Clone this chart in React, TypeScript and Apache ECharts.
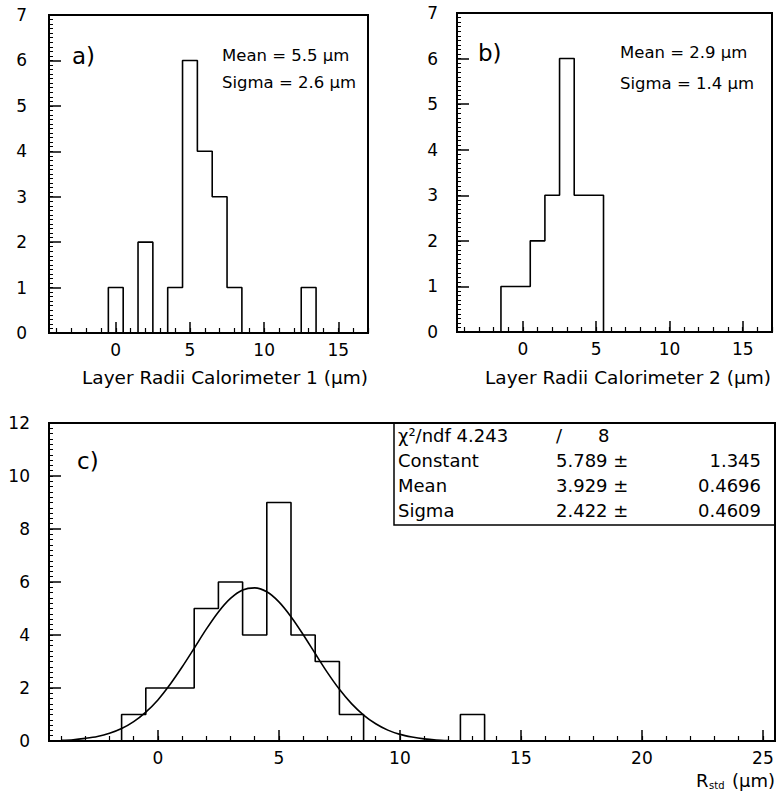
import React, { useEffect, useRef } from 'react';
import * as echarts from 'echarts';

// ---- data ----
const aCenters = [0, 2, 4, 5, 6, 7, 8, 13];
const aCounts = [1, 2, 1, 6, 4, 3, 1, 1];
const bCenters = [-1, 0, 1, 2, 3, 4, 5];
const bCounts = [1, 1, 2, 3, 6, 3, 3];
const cCenters = [-1, 0, 1, 2, 3, 4, 5, 6, 7, 8, 13];
const cCounts = [1, 2, 2, 5, 6, 4, 9, 4, 3, 1, 1];

// fitted gaussian curve
const fitX = [-4, -3.5, -3, -2.5, -2, -1.5, -1, -0.5, 0, 0.5, 1, 1.5, 2, 2.5, 3, 3.5, 4, 4.5, 5, 5.5, 6, 6.5, 7, 7.5, 8, 8.5, 9, 9.5, 10, 10.5, 11, 11.5, 12];
const fitY = [0.03, 0.05, 0.1, 0.17, 0.29, 0.47, 0.73, 1.09, 1.55, 2.13, 2.79, 3.5, 4.22, 4.87, 5.38, 5.7, 5.78, 5.63, 5.25, 4.69, 4.02, 3.3, 2.59, 1.95, 1.41, 0.98, 0.65, 0.41, 0.25, 0.15, 0.08, 0.04, 0.02];

// tick labels
const xLabelsAB = [0, 5, 10, 15];
const xLabelsC = [0, 5, 10, 15, 20, 25];
const xMinorAB = [-4, -3, -2, -1, 0, 1, 2, 3, 4, 5, 6, 7, 8, 9, 10, 11, 12, 13, 14, 15, 16, 17];
const xMinorC = [-4, -3, -2, -1, 0, 1, 2, 3, 4, 5, 6, 7, 8, 9, 10, 11, 12, 13, 14, 15, 16, 17, 18, 19, 20, 21, 22, 23, 24, 25];
const yLabelsAB = [0, 1, 2, 3, 4, 5, 6, 7];
const yLabelsC = [0, 2, 4, 6, 8, 10, 12];

const statsLabels = ['Constant', 'Mean', 'Sigma'];
const statsValues = ['5.789 ±', '3.929 ±', '2.422 ±'];
const statsErrors = ['1.345', '0.4696', '0.4609'];

const FONT = 'DejaVu Sans';

function outline(centers: number[], counts: number[]) {
  const lo = Math.min(...centers);
  const hi = Math.max(...centers);
  const pts: number[][] = [[lo - 0.5, 0]];
  for (let c = lo; c <= hi; c++) {
    const i = centers.indexOf(c);
    const v = i >= 0 ? counts[i] : 0;
    pts.push([c - 0.5, v], [c + 0.5, v]);
  }
  pts.push([hi + 0.5, 0]);
  return pts;
}

function steps(max: number, step: number) {
  const out: number[] = [];
  const n = Math.round(max / step);
  for (let i = 0; i <= n; i++) out.push(+(i * step).toFixed(4));
  return out;
}

function txt(x: number, y: number, text: string, fontSize: number, align = 'left') {
  return {
    type: 'text', x, y, z: 10,
    style: { text, fontSize, fontFamily: FONT, fill: '#000', textAlign: align, textVerticalAlign: 'middle' },
  };
}

function seg(p1: number[], p2: number[], width: number) {
  return [{ coord: p1, lineStyle: { width, color: '#000', type: 'solid' } }, { coord: p2 }];
}

function panel(grid: any, xmin: number, xmax: number, ymax: number, yInterval: number, yMargin: number,
  xLabels: number[], xMinor: number[], yLabels: number[], yMinorStep: number, histo: number[][], extra: any[], graphic: any[]) {
  // tick lengths in px converted to data units through the grid size
  const pxY = ymax / grid.height;
  const pxX = (xmax - xmin) / grid.width;
  const marks = [
    ...xMinor.map((v) => seg([v, 0], [v, 5 * pxY], 1.2)),
    ...xLabels.map((v) => seg([v, 0], [v, 11 * pxY], 1.5)),
    ...steps(ymax, yMinorStep).map((v) => seg([xmin, v], [xmin + 4 * pxX, v], 1)),
    ...yLabels.map((v) => seg([xmin, v], [xmin + 12 * pxX, v], 1.5)),
  ];
  return {
    animation: false,
    grid: { ...grid, show: true, borderColor: '#000', borderWidth: 2 },
    xAxis: {
      type: 'value', min: xmin, max: xmax,
      axisLine: { show: true, onZero: false, lineStyle: { color: '#000', width: 2 } },
      axisTick: { show: false },
      axisLabel: { customValues: xLabels, color: '#000', fontSize: 17, fontFamily: FONT, margin: 8 },
      splitLine: { show: false },
    },
    yAxis: {
      type: 'value', min: 0, max: ymax, interval: yInterval,
      axisLine: { show: true, onZero: false, lineStyle: { color: '#000', width: 2 } },
      axisTick: { show: false },
      axisLabel: { color: '#000', fontSize: 17, fontFamily: FONT, margin: yMargin },
      splitLine: { show: false },
    },
    series: [
      {
        type: 'line', data: histo, symbol: 'none', lineStyle: { color: '#000', width: 1.6 },
        markLine: {
          silent: true, animation: false, symbol: ['none', 'none'], precision: 6,
          label: { show: false }, emphasis: { disabled: true },
          lineStyle: { color: '#000', type: 'solid', width: 1.2 },
          data: marks,
        },
      },
      ...extra,
    ],
    graphic,
  };
}

function Chart({ option, bg }: { option: any; bg?: boolean }) {
  const ref = useRef<HTMLDivElement>(null);
  useEffect(() => {
    if (!ref.current) return;
    const chart = echarts.init(ref.current, null, { renderer: 'svg' });
    chart.setOption(option);
    return () => chart.dispose();
  }, []);
  return <div ref={ref} style={{ position: 'absolute', left: 0, top: 0, width: 778, height: 793, background: bg ? '#fff' : 'transparent' }} />;
}

export default function App() {
  const gA = [
    txt(72, 56, 'a)', 23),
    txt(222, 55, 'Mean = 5.5 μm', 16.5),
    txt(222, 82, 'Sigma = 2.6 μm', 16.5),
    txt(368, 377, 'Layer Radii Calorimeter 1 (μm)', 18.5, 'right'),
  ];
  const gB = [
    txt(478, 53, 'b)', 23),
    txt(620, 52, 'Mean = 2.9 μm', 16.5),
    txt(620, 83, 'Sigma = 1.4 μm', 16.5),
    txt(771, 377, 'Layer Radii Calorimeter 2 (μm)', 18.5, 'right'),
  ];
  const gC: any[] = [
    txt(77, 461, 'c)', 23),
    {
      type: 'rect', z: 10, shape: { x: 394, y: 423, width: 381, height: 102 },
      style: { fill: 'none', stroke: '#000', lineWidth: 1.5 },
    },
    txt(398, 435, 'χ²/ndf 4.243', 18),
    txt(556, 435, '/', 18),
    txt(598, 435, '8', 18),
    txt(696, 780, 'R', 18),
    txt(709, 785, 'std', 10),
    txt(775, 780, '(μm)', 18, 'right'),
  ];
  statsLabels.forEach((l, i) => {
    const y = 460 + i * 25;
    gC.push(txt(398, y, l, 18));
    gC.push(txt(556, y, statsValues[i], 18));
    gC.push(txt(761, y, statsErrors[i], 18, 'right'));
  });

  const fit = { type: 'line', data: fitX.map((x, i) => [x, fitY[i]]), symbol: 'none', smooth: 0.3, lineStyle: { color: '#000', width: 1.6 } };

  const optA = panel({ left: 49, top: 15, width: 319, height: 318 }, -4.5, 17, 7, 1, 22, xLabelsAB, xMinorAB, yLabelsAB, 0.1, outline(aCenters, aCounts), [], gA);
  const optB = panel({ left: 457, top: 13, width: 315, height: 319 }, -4.5, 17, 7, 1, 19, xLabelsAB, xMinorAB, yLabelsAB, 0.1, outline(bCenters, bCounts), [], gB);
  const optC = panel({ left: 49, top: 423, width: 726, height: 318 }, -4.5, 25.5, 12, 2, 19, xLabelsC, xMinorC, yLabelsC, 0.2, outline(cCenters, cCounts), [fit], gC);

  return (
    <div style={{ position: 'absolute', left: 0, top: 0, width: 778, height: 793, background: '#fff' }}>
      <Chart option={optA} bg />
      <Chart option={optB} />
      <Chart option={optC} />
    </div>
  );
}
